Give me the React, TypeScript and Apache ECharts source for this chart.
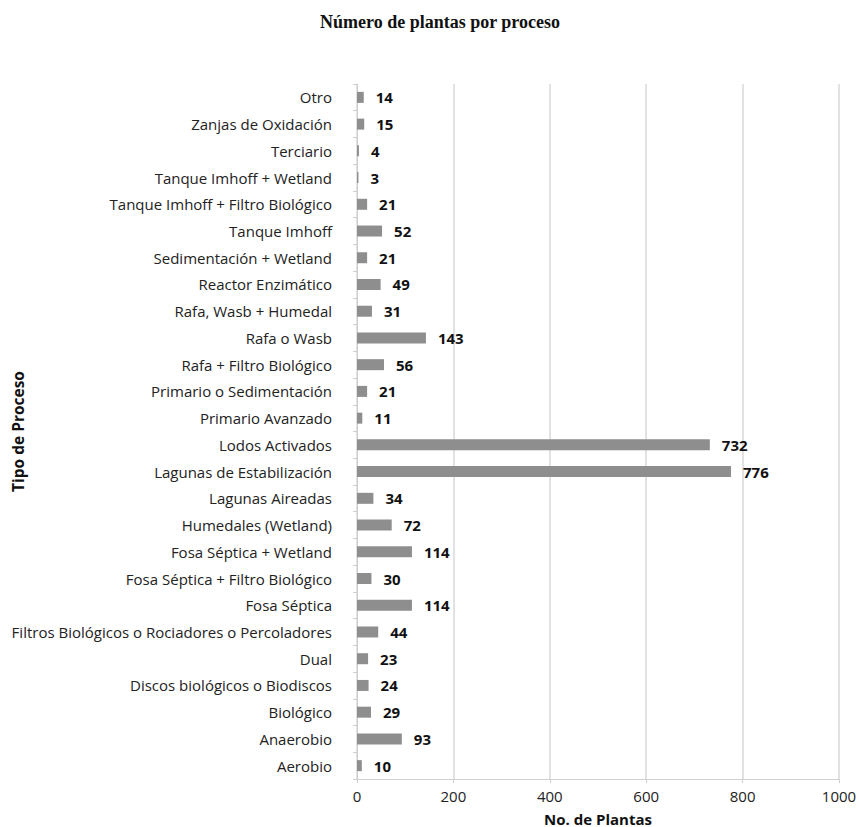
import React, { useEffect, useRef } from "react";
import * as echarts from "echarts";

const categories = [
  "Aerobio",
  "Anaerobio",
  "Biológico",
  "Discos biológicos o Biodiscos",
  "Dual",
  "Filtros Biológicos o Rociadores o Percoladores",
  "Fosa Séptica",
  "Fosa Séptica + Filtro Biológico",
  "Fosa Séptica + Wetland",
  "Humedales (Wetland)",
  "Lagunas Aireadas",
  "Lagunas de Estabilización",
  "Lodos Activados",
  "Primario Avanzado",
  "Primario o Sedimentación",
  "Rafa + Filtro Biológico",
  "Rafa o Wasb",
  "Rafa, Wasb + Humedal",
  "Reactor Enzimático",
  "Sedimentación + Wetland",
  "Tanque Imhoff",
  "Tanque Imhoff + Filtro Biológico",
  "Tanque Imhoff + Wetland",
  "Terciario",
  "Zanjas de Oxidación",
  "Otro",
];

const plantas = [10, 93, 29, 24, 23, 44, 114, 30, 114, 72, 34, 776, 732, 11, 21, 56, 143, 31, 49, 21, 52, 21, 3, 4, 15, 14];

const xTicks = [0, 200, 400, 600, 800, 1000];

export default function App() {
  const ref = useRef<HTMLDivElement>(null);
  useEffect(() => {
    document.body.style.margin = "0";
    if (!ref.current) return;
    const chart = echarts.init(ref.current, undefined, { renderer: "svg" });
    const sans = "'Open Sans', 'Noto Sans', sans-serif";
    chart.setOption({
      animation: false,
      backgroundColor: "#ffffff",
      title: {
        text: "Número de plantas por proceso",
        left: 435,
        textAlign: "center",
        top: 8,
        textStyle: {
          fontFamily: "'Liberation Serif', 'DejaVu Serif', serif",
          fontWeight: "bold",
          fontSize: 18,
          color: "#111111",
        },
      },
      grid: {
        left: 357,
        right: 20,
        top: 84,
        bottom: 48,
        containLabel: false,
        outerBoundsMode: "none",
      },
      xAxis: {
        type: "value",
        min: xTicks[0],
        max: xTicks[xTicks.length - 1],
        interval: 200,
        name: "No. de Plantas",
        nameLocation: "middle",
        nameGap: 32,
        nameMoveOverlap: false,
        nameTextStyle: { fontFamily: sans, fontWeight: "bold", fontSize: 15, color: "#111" },
        axisLine: { show: true, lineStyle: { color: "#cfcfcf", width: 1 } },
        axisTick: { show: true, length: 4, lineStyle: { color: "#cfcfcf" } },
        axisLabel: {
          fontFamily: sans,
          fontSize: 15,
          color: "#222",
          margin: 9,
          formatter: (v: number) => String(v),
        },
        splitLine: { show: true, lineStyle: { color: "#d9d9d9", width: 1.5 } },
      },
      yAxis: {
        type: "category",
        data: categories,
        name: "Tipo de Proceso",
        nameLocation: "middle",
        nameRotate: 90,
        nameGap: 331,
        nameMoveOverlap: false,
        nameTextStyle: { fontFamily: sans, fontWeight: "bold", fontSize: 15.5, color: "#111" },
        axisLine: { show: true, lineStyle: { color: "#cfcfcf", width: 1 } },
        axisTick: { show: true, length: 4, lineStyle: { color: "#cfcfcf" } },
        axisLabel: { fontFamily: sans, fontSize: 15, color: "#222", margin: 25 },
        splitLine: { show: false },
      },
      series: [
        {
          type: "bar",
          data: plantas,
          barWidth: 11,
          itemStyle: { color: "#8e8e8e" },
          label: {
            show: true,
            position: "right",
            distance: 12,
            fontFamily: sans,
            fontWeight: "bold",
            fontSize: 15,
            color: "#111",
          },
        },
      ],
    });
    return () => chart.dispose();
  }, []);
  return <div ref={ref} style={{ width: 859, height: 827 }} />;
}
